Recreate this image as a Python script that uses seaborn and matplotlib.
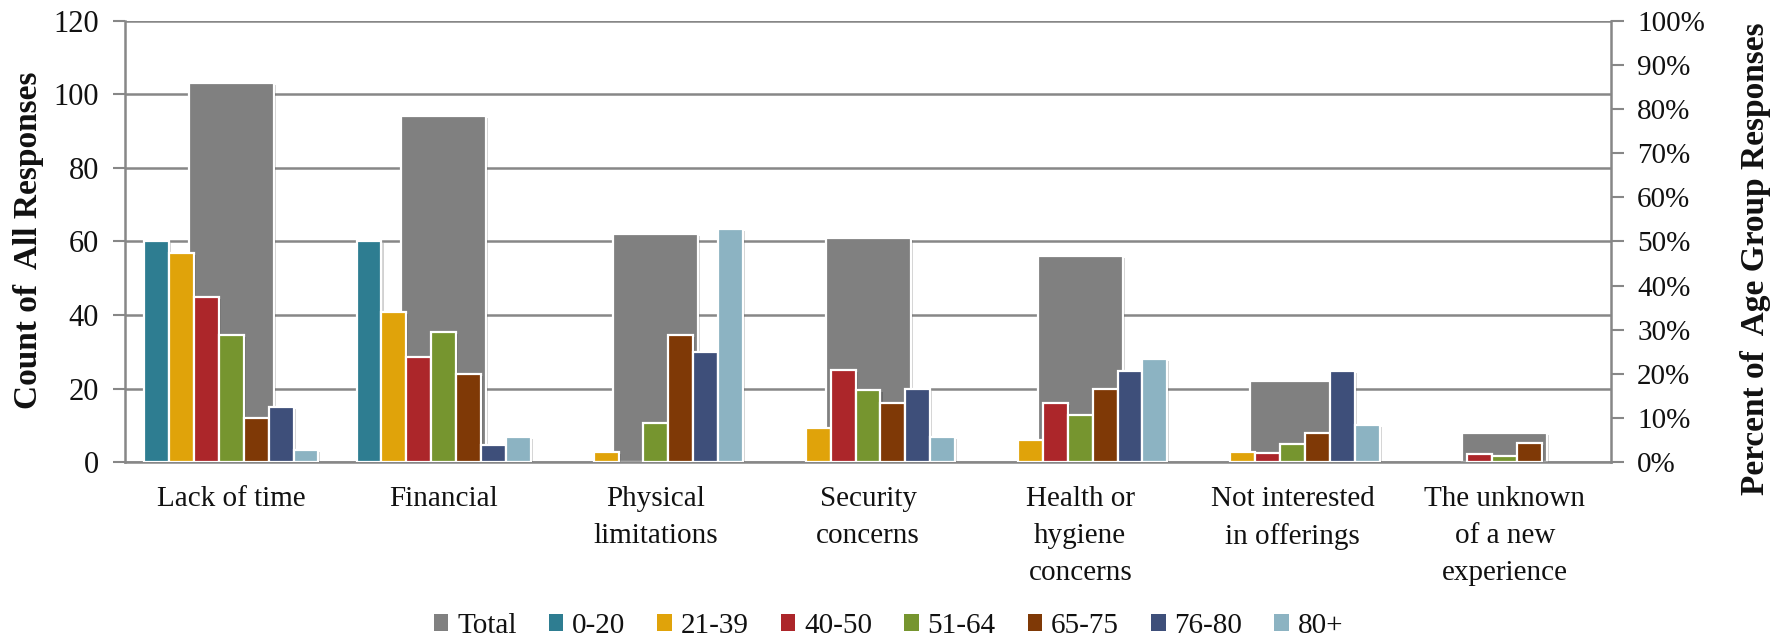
import numpy as np
import pandas as pd
import matplotlib
matplotlib.use("Agg")
import matplotlib.pyplot as plt
import matplotlib.patheffects as pe
from matplotlib.patches import Patch
from matplotlib.ticker import FixedLocator, FuncFormatter
import seaborn as sns

# ---- data -------------------------------------------------------------
categories = [
    "Lack of time",
    "Financial",
    "Physical\nlimitations",
    "Security\nconcerns",
    "Health or\nhygiene\nconcerns",
    "Not interested\nin offerings",
    "The unknown\nof a new\nexperience",
]
total_counts = [103, 94, 62, 61, 56, 22, 8]

age_groups = ["0-20", "21-39", "40-50", "51-64", "65-75", "76-80", "80+"]
# percent of each age group's responses, one list per age group (in category order)
pct_0_20 = [50.0, 50.0, 0, 0, 0, 0, 0]
pct_21_39 = [47.3, 34.1, 2.4, 7.8, 5.1, 2.4, 0]
pct_40_50 = [37.5, 23.9, 0, 20.8, 13.4, 2.0, 1.9]
pct_51_64 = [28.7, 29.4, 8.9, 16.4, 10.6, 4.0, 1.5]
pct_65_75 = [10.0, 20.0, 28.9, 13.3, 16.6, 6.6, 4.3]
pct_76_80 = [12.4, 3.9, 24.9, 16.6, 20.6, 20.6, 0]
pct_80_plus = [2.7, 5.7, 52.8, 5.7, 23.3, 8.5, 0]

total_color = "#808080"
age_colors = ["#2E7D91", "#E0A30A", "#AC262A", "#76952F",
              "#7F3906", "#3E4F7A", "#8CB3C2"]

# ---- tidy frames --------------------------------------------------------
df_total = pd.DataFrame({"reason": categories, "count": total_counts})
age_series = [pct_0_20, pct_21_39, pct_40_50, pct_51_64,
              pct_65_75, pct_76_80, pct_80_plus]
df_age = pd.DataFrame(
    [(cat, grp, vals[i])
     for grp, vals in zip(age_groups, age_series)
     for i, cat in enumerate(categories)],
    columns=["reason", "group", "pct"],
)

# ---- style --------------------------------------------------------------
sns.set_style("white")
serif = ["Liberation Serif", "DejaVu Serif"]
plt.rcParams["font.family"] = serif
grid_gray = "#878787"
text_color = "#111111"

fig = plt.figure(figsize=(17.77, 6.41), dpi=100)
ax1 = fig.add_axes([0.0705, 0.279, 0.836, 0.689])
ax2 = ax1.twinx()

edge_kw = dict(edgecolor="white", linewidth=1.6)
shadow = [pe.SimplePatchShadow(offset=(1.5, -1.5), shadow_rgbFace="black", alpha=0.18),
          pe.Normal()]

sns.barplot(data=df_total, x="reason", y="count", order=categories,
            color=total_color, saturation=1, width=0.40, errorbar=None,
            ax=ax1, **edge_kw)
sns.barplot(data=df_age, x="reason", y="pct", hue="group", order=categories,
            hue_order=age_groups, palette=age_colors, saturation=1,
            width=0.82, errorbar=None, legend=False, ax=ax2, **edge_kw)

for ax in (ax1, ax2):
    for p in ax.patches:
        if p.get_height() > 0:
            p.set_path_effects(shadow)
        else:
            p.set_visible(False)

# ---- axes ---------------------------------------------------------------
ax1.set_xlim(-0.5, len(categories) - 0.5)
ax1.set_ylim(0, 120)
ax1.set_yticks(np.arange(0, 121, 20))
ax2.set_ylim(0, 100)
ax2.set_yticks(np.arange(0, 101, 10))
ax2.yaxis.set_major_formatter(FuncFormatter(lambda v, _: f"{int(v)}%"))

ax1.set_axisbelow(True)
ax1.yaxis.grid(True, color=grid_gray, linewidth=1.8)
ax1.xaxis.grid(False)
ax2.grid(False)

ax1.set_xticks(range(len(categories)))
ax1.set_xticklabels(categories, fontsize=21, color=text_color, linespacing=1.55)
ax1.xaxis.set_minor_locator(FixedLocator(np.arange(-0.5, len(categories), 1.0)))
ax1.tick_params(axis="x", which="major", length=0, pad=17)
ax1.tick_params(axis="x", which="minor", length=9, width=1.5, color=grid_gray,
                direction="out")
ax1.tick_params(axis="y", length=9, width=1.5, color=grid_gray, direction="out",
                labelsize=22, labelcolor=text_color, pad=10)
ax2.tick_params(axis="y", length=9, width=1.5, color=grid_gray, direction="out",
                labelsize=21, labelcolor=text_color, pad=10)

for name, sp in ax1.spines.items():
    sp.set_visible(name in ("left", "bottom"))
    sp.set_color(grid_gray)
    sp.set_linewidth(1.8)
for name, sp in ax2.spines.items():
    sp.set_visible(name == "right")
    sp.set_color(grid_gray)
    sp.set_linewidth(1.8)

ax1.set_xlabel("")
ax2.set_xlabel("")
ax1.set_ylabel("Count of  All Responses", fontsize=24, fontweight="bold",
               color=text_color)
ax1.yaxis.set_label_coords(-0.055, 0.503)
ax2.set_ylabel("Percent of  Age Group Responses", fontsize=24, fontweight="bold",
               color=text_color, rotation=90)
ax2.yaxis.set_label_coords(1.087, 0.46)

# ---- legend -------------------------------------------------------------
handles = [Patch(facecolor=total_color, edgecolor="none", label="Total")]
handles += [Patch(facecolor=c, edgecolor="none", label=g)
            for g, c in zip(age_groups, age_colors)]
fig.legend(handles=handles, loc="center", bbox_to_anchor=(0.5, 0.024),
           ncol=len(handles), frameon=False,
           prop={"family": serif, "size": 21},
           handlelength=0.5, handleheight=0.5, handletextpad=0.3,
           columnspacing=1.1, labelcolor=text_color)

fig.savefig("out.png", dpi=100, facecolor="white")
